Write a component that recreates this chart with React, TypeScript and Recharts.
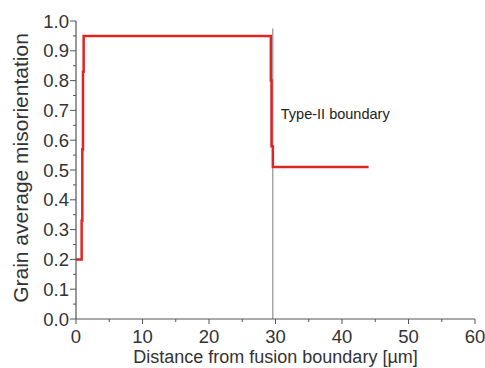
import React from 'react';
import { LineChart, Line, XAxis, YAxis, ReferenceLine, ReferenceDot } from 'recharts';

// step profile: distance [µm] vs grain average misorientation
const distance = [0, 0.85, 0.95, 1.05, 1.15, 29.3, 29.4, 29.6, 44];
const misorientation = [0.2, 0.33, 0.57, 0.83, 0.95, 0.8, 0.58, 0.51, 0.51];

const xTicks = [0, 5, 10, 15, 20, 25, 30, 35, 40, 45, 50, 55, 60];
const yTicks = [0, 0.05, 0.1, 0.15, 0.2, 0.25, 0.3, 0.35, 0.4, 0.45, 0.5, 0.55, 0.6, 0.65, 0.7, 0.75, 0.8, 0.85, 0.9, 0.95, 1.0];

const boundaryX = 29.6;
const boundaryTop = 0.975;
const boundaryLabel = 'Type-II boundary';

const data = distance.map((d, i) => ({ x: d, y: misorientation[i] }));

const FONT = '"Liberation Sans", Arial, sans-serif';
const TEXT = '#333333';
const AXIS = '#555555';

const YTick = (props: any) => {
  const { x, y, payload } = props;
  const axisX = x + 8;
  const major = Math.round(payload.value * 100) % 10 === 0;
  return (
    <g>
      <line x1={axisX - (major ? 6 : 3)} x2={axisX} y1={y} y2={y} stroke={AXIS} strokeWidth={1} />
      {major && (
        <text x={axisX - 7} y={y} textAnchor="end" dominantBaseline="central" fill={TEXT} fontSize={18.5} fontFamily={FONT}>
          {payload.value.toFixed(1)}
        </text>
      )}
    </g>
  );
};

const XTick = (props: any) => {
  const { x, y, payload } = props;
  const axisY = y - 8;
  const major = payload.value % 10 === 0;
  return (
    <g>
      <line x1={x} x2={x} y1={axisY} y2={axisY + (major ? 5 : 3)} stroke={AXIS} strokeWidth={1} />
      {major && (
        <text x={x} y={axisY + 17} textAnchor="middle" dominantBaseline="central" fill={TEXT} fontSize={18.5} fontFamily={FONT}>
          {payload.value}
        </text>
      )}
    </g>
  );
};

export default function App() {
  return (
    <div style={{ position: 'absolute', left: 0, top: 0, width: 485, height: 368, background: '#fff' }}>
      <LineChart width={485} height={368} data={data} margin={{ top: 21, right: 10, left: 0, bottom: 0 }}>
        <XAxis
          dataKey="x"
          type="number"
          domain={[0, 60]}
          ticks={xTicks}
          interval={0}
          height={49}
          tickSize={6}
          tickMargin={2}
          tickLine={false}
          tick={<XTick />}
          axisLine={{ stroke: AXIS, strokeWidth: 1.2 }}
          label={{ value: 'Distance from fusion boundary [µm]', position: 'insideBottom', offset: 5, fill: TEXT, fontSize: 18, fontFamily: FONT }}
        />
        <YAxis
          type="number"
          domain={[0, 1]}
          ticks={yTicks}
          interval={0}
          width={76}
          tickSize={6}
          tickMargin={2}
          tickLine={false}
          tick={<YTick />}
          axisLine={{ stroke: AXIS, strokeWidth: 1.2 }}
          label={{ value: 'Grain average misorientation', angle: -90, position: 'insideLeft', offset: 21, dy: -2, fill: TEXT, fontSize: 21, fontFamily: FONT, style: { textAnchor: 'middle' } }}
        />
        <ReferenceLine
          segment={[{ x: boundaryX, y: 0 }, { x: boundaryX, y: boundaryTop }]}
          stroke="#7a7a7a"
          strokeWidth={1}
        />
        <Line
          type="stepAfter"
          dataKey="y"
          stroke="#e02424"
          strokeWidth={2.5}
          dot={false}
          isAnimationActive={false}
        />
        <ReferenceDot
          x={30.8}
          y={0.69}
          r={0}
          stroke="none"
          fill="none"
          label={{ value: boundaryLabel, position: 'right', offset: 0, fill: '#222', fontSize: 14.5, fontFamily: FONT }}
        />
      </LineChart>
    </div>
  );
}
